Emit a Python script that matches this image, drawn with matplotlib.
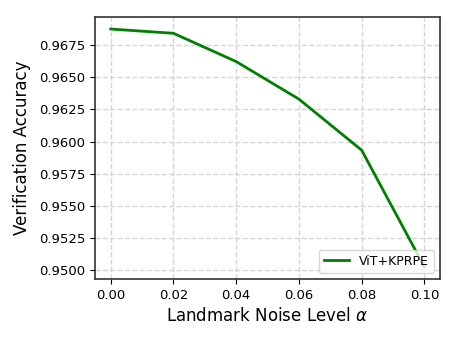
import numpy as np
import matplotlib.pyplot as plt

noise_level = [0.00, 0.02, 0.04, 0.06, 0.08, 0.10]
accuracy = [0.96875, 0.96842, 0.96622, 0.96330, 0.95933, 0.95025]

fig = plt.figure(figsize=(4.57, 3.43), dpi=100)
ax = fig.add_axes([0.208, 0.187, 0.755, 0.763])
ax.plot(noise_level, accuracy, color='green', linewidth=2, label='ViT+KPRPE')
ax.set_xticks([0.00, 0.02, 0.04, 0.06, 0.08, 0.10])
ax.set_yticks([0.9500, 0.9525, 0.9550, 0.9575, 0.9600, 0.9625, 0.9650, 0.9675])
ax.yaxis.set_major_formatter(plt.FormatStrFormatter('%.4f'))
ax.xaxis.set_major_formatter(plt.FormatStrFormatter('%.2f'))
ax.tick_params(labelsize=9.5)
ax.grid(True, linestyle='--', color='#d5d5d5', linewidth=1)
for s in ax.spines.values():
    s.set_color('#333333')
    s.set_linewidth(1.2)
ax.set_xlabel(r'Landmark Noise Level $\alpha$', fontsize=12)
ax.set_ylabel('Verification Accuracy', fontsize=12, labelpad=6)
ax.legend(loc='lower right', fontsize=9)
fig.savefig('out.png', dpi=100)
